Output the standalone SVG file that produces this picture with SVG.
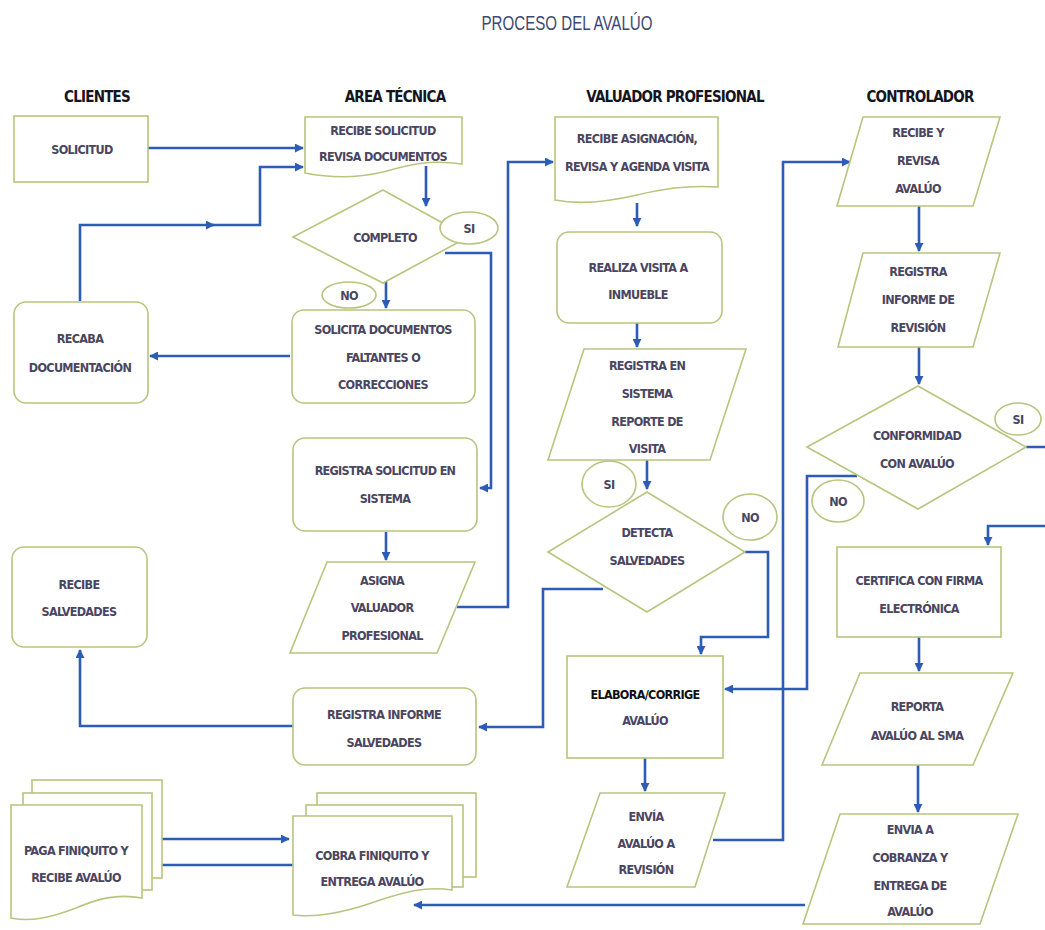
<svg xmlns="http://www.w3.org/2000/svg" width="1045" height="930" viewBox="0 0 1045 930">
<style>
.n{fill:#fff;stroke:#b9c47e;stroke-width:1.6}
.t{font-family:"Liberation Sans Narrow","DejaVu Sans Condensed","Liberation Sans",sans-serif;font-size:12.5px;letter-spacing:-0.7px;font-weight:bold;fill:#4a4560;text-anchor:middle;dominant-baseline:central}
.h{font-family:"Liberation Sans Narrow","DejaVu Sans Condensed","Liberation Sans",sans-serif;font-size:15px;letter-spacing:-0.8px;font-weight:bold;fill:#15151f;text-anchor:middle;dominant-baseline:central}
.c{fill:none;stroke:#2c5cb6;stroke-width:2.6;stroke-linejoin:miter}
</style>
<defs>
<marker id="ar" viewBox="0 0 10 10" refX="9" refY="5" markerWidth="9" markerHeight="9" markerUnits="userSpaceOnUse" orient="auto">
<path d="M0,0 L10,5 L0,10 Z" fill="#2c5cb6"/>
</marker>
</defs>
<rect width="1045" height="930" fill="#fff"/>
<text x="567" y="22" textLength="171" lengthAdjust="spacingAndGlyphs" style="font-family:'Liberation Sans Narrow','Liberation Sans',sans-serif;font-size:21px;fill:#3c4a72;text-anchor:middle;dominant-baseline:central">PROCESO DEL AVALÚO</text>

<g id="headers">
<text class="h" x="97" y="97">CLIENTES</text>
<text class="h" x="395" y="97">AREA TÉCNICA</text>
<text class="h" x="675" y="97">VALUADOR PROFESIONAL</text>
<text class="h" x="920" y="97">CONTROLADOR</text>
</g>

<g id="connectors">
<path class="c" d="M148,148 H303" marker-end="url(#ar)"/>
<path class="c" d="M80,301 V225 H214" marker-end="url(#ar)"/>
<path class="c" d="M212,225 H260 V167 H303" marker-end="url(#ar)"/>
<path class="c" d="M426,166 V206" marker-end="url(#ar)"/>
<path class="c" d="M386,281 V308" marker-end="url(#ar)"/>
<path class="c" d="M445,253 H491 V488 H480" marker-end="url(#ar)"/>
<path class="c" d="M290,356 H150" marker-end="url(#ar)"/>
<path class="c" d="M386,532 V560" marker-end="url(#ar)"/>
<path class="c" d="M457,607 H508 V162 H553" marker-end="url(#ar)"/>
<path class="c" d="M637,203 V226" marker-end="url(#ar)"/>
<path class="c" d="M637,323 V347" marker-end="url(#ar)"/>
<path class="c" d="M647,460 V489" marker-end="url(#ar)"/>
<path class="c" d="M603,589 H543 V727 H479" marker-end="url(#ar)"/>
<path class="c" d="M745,552 H768 V637 H701 V654" marker-end="url(#ar)"/>
<path class="c" d="M293,726 H80 V650" marker-end="url(#ar)"/>
<path class="c" d="M645,758 V791" marker-end="url(#ar)"/>
<path class="c" d="M713,840 H783 V162 H850" marker-end="url(#ar)"/>
<path class="c" d="M919,206 V251" marker-end="url(#ar)"/>
<path class="c" d="M919,347 V384" marker-end="url(#ar)"/>
<path class="c" d="M857,476 H807 V689 H725" marker-end="url(#ar)"/>
<path class="c" d="M1026,447 H1052 V526 H988 V545" marker-end="url(#ar)"/>
<path class="c" d="M919,637 V671" marker-end="url(#ar)"/>
<path class="c" d="M918,765 V812" marker-end="url(#ar)"/>
<path class="c" d="M805,905 H414" marker-end="url(#ar)"/>
<path class="c" d="M146,839 H289" marker-end="url(#ar)"/>
<path class="c" d="M293,865 H145" marker-end="url(#ar)"/>
</g>

<g id="n-solicitud"><rect class="n" x="14" y="116" width="134" height="66"/><text class="t" x="82" y="149">SOLICITUD</text></g>

<g id="n-recibe-solicitud"><path class="n" d="M305,117 H462 V164 C425,159 405,166 383,172 C358,178 330,178 305,173 Z"/><text class="t" x="383" y="130">RECIBE SOLICITUD</text><text class="t" x="383" y="156">REVISA DOCUMENTOS</text></g>

<g id="n-completo"><path class="n" d="M383,190 L468,237 L383,283 L293,237 Z"/><text class="t" x="385" y="237">COMPLETO</text></g>
<g id="l-si1"><ellipse class="n" cx="469" cy="228" rx="29" ry="16"/><text class="t" x="469" y="228">SI</text></g>
<g id="l-no1"><ellipse class="n" cx="349" cy="295" rx="27" ry="13"/><text class="t" x="349" y="295">NO</text></g>

<g id="n-solicita"><rect class="n" x="292" y="310" width="183" height="93" rx="12"/><text class="t" x="383" y="329">SOLICITA DOCUMENTOS</text><text class="t" x="383" y="357">FALTANTES O</text><text class="t" x="383" y="384">CORRECCIONES</text></g>

<g id="n-recaba"><rect class="n" x="14" y="302" width="134" height="101" rx="12"/><text class="t" x="80" y="338">RECABA</text><text class="t" x="80" y="367">DOCUMENTACIÓN</text></g>

<g id="n-registra-solicitud"><rect class="n" x="293" y="438" width="184" height="93" rx="12"/><text class="t" x="385" y="470">REGISTRA SOLICITUD EN</text><text class="t" x="385" y="498">SISTEMA</text></g>

<g id="n-asigna"><path class="n" d="M327,562 H475 L437,653 H290 Z"/><text class="t" x="382" y="580">ASIGNA</text><text class="t" x="382" y="607">VALUADOR</text><text class="t" x="382" y="635">PROFESIONAL</text></g>

<g id="n-registra-informe"><rect class="n" x="293" y="688" width="183" height="77" rx="12"/><text class="t" x="384" y="714">REGISTRA INFORME</text><text class="t" x="384" y="742">SALVEDADES</text></g>

<g id="n-recibe-salvedades"><rect class="n" x="12" y="547" width="135" height="100" rx="12"/><text class="t" x="79" y="584">RECIBE</text><text class="t" x="79" y="611">SALVEDADES</text></g>

<g id="n-paga"><rect class="n" x="32" y="780" width="130" height="98"/><rect class="n" x="23" y="793" width="129" height="97"/><path class="n" d="M11,805 H142 V898 C115,893 95,900 76,908 C50,918 30,922 11,918 Z"/><text class="t" x="76" y="850">PAGA FINIQUITO Y</text><text class="t" x="76" y="877">RECIBE AVALÚO</text></g>

<g id="n-cobra"><rect class="n" x="317" y="793" width="159" height="84"/><rect class="n" x="306" y="805" width="157" height="82"/><path class="n" d="M293,816 H452 V890 C425,886 405,892 380,900 C350,911 320,918 293,915 Z"/><text class="t" x="372" y="855">COBRA FINIQUITO Y</text><text class="t" x="372" y="881">ENTREGA AVALÚO</text></g>

<g id="n-recibe-asignacion"><path class="n" d="M555,117 H718 V187 C685,185 662,189 637,195 C607,202 580,205 555,200 Z"/><text class="t" x="637" y="138">RECIBE ASIGNACIÓN,</text><text class="t" x="637" y="166">REVISA Y AGENDA VISITA</text></g>

<g id="n-realiza"><rect class="n" x="557" y="232" width="165" height="91" rx="12"/><text class="t" x="638" y="267">REALIZA VISITA A</text><text class="t" x="638" y="294">INMUEBLE</text></g>

<g id="n-registra-sistema"><path class="n" d="M584,349 H746 L710,460 H548 Z"/><text class="t" x="647" y="365">REGISTRA EN</text><text class="t" x="647" y="393">SISTEMA</text><text class="t" x="647" y="421">REPORTE DE</text><text class="t" x="647" y="448">VISITA</text></g>

<g id="n-detecta"><path class="n" d="M647,492 L745,552 L647,612 L548,552 Z"/><text class="t" x="647" y="532">DETECTA</text><text class="t" x="647" y="560">SALVEDADES</text></g>
<g id="l-si2"><ellipse class="n" cx="609" cy="484" rx="27" ry="23"/><text class="t" x="609" y="484">SI</text></g>
<g id="l-no2"><ellipse class="n" cx="750" cy="517" rx="27" ry="23"/><text class="t" x="750" y="517">NO</text></g>

<g id="n-elabora"><rect class="n" x="567" y="656" width="156" height="102"/><text class="t" x="645" y="694" style="fill:#111">ELABORA/CORRIGE</text><text class="t" x="645" y="720">AVALÚO</text></g>

<g id="n-envia-revision"><path class="n" d="M600,793 H725 L695,887 H567 Z"/><text class="t" x="646" y="816">ENVÍA</text><text class="t" x="646" y="843">AVALÚO A</text><text class="t" x="646" y="869">REVISIÓN</text></g>

<g id="n-recibe-revisa"><path class="n" d="M863,117 H1000 L973,206 H837 Z"/><text class="t" x="918" y="132">RECIBE Y</text><text class="t" x="918" y="160">REVISA</text><text class="t" x="918" y="188">AVALÚO</text></g>

<g id="n-registra-revision"><path class="n" d="M863,253 H1000 L973,347 H838 Z"/><text class="t" x="918" y="271">REGISTRA</text><text class="t" x="918" y="299">INFORME DE</text><text class="t" x="918" y="327">REVISIÓN</text></g>

<g id="n-conformidad"><path class="n" d="M918,386 L1026,447 L918,509 L807,447 Z"/><text class="t" x="917" y="435">CONFORMIDAD</text><text class="t" x="917" y="463">CON AVALÚO</text></g>
<g id="l-si3"><ellipse class="n" cx="1018" cy="419" rx="23" ry="16"/><text class="t" x="1018" y="419">SI</text></g>
<g id="l-no3"><ellipse class="n" cx="838" cy="501" rx="26" ry="21"/><text class="t" x="838" y="501">NO</text></g>

<g id="n-certifica"><rect class="n" x="837" y="547" width="164" height="90"/><text class="t" x="919" y="580">CERTIFICA CON FIRMA</text><text class="t" x="919" y="608">ELECTRÓNICA</text></g>

<g id="n-reporta"><path class="n" d="M860,673 H1013 L973,765 H822 Z"/><text class="t" x="917" y="706">REPORTA</text><text class="t" x="917" y="735">AVALÚO AL SMA</text></g>

<g id="n-envia-cobranza"><path class="n" d="M840,814 H1018 L980,924 H803 Z"/><text class="t" x="910" y="829">ENVIA A</text><text class="t" x="910" y="857">COBRANZA Y</text><text class="t" x="910" y="885">ENTREGA DE</text><text class="t" x="910" y="911">AVALÚO</text></g>
</svg>
